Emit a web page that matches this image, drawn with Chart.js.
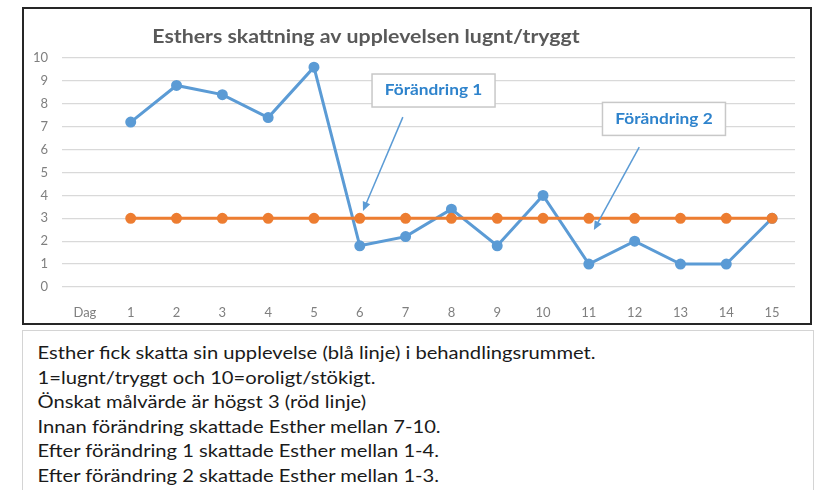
<!DOCTYPE html>
<html lang="sv">
<head>
  <meta charset="UTF-8">
  <title>Esthers skattning</title>
  <script src="https://cdn.jsdelivr.net/npm/chart.js"></script>
  <style>
    body { margin: 0; width: 818px; height: 490px; background: #fff; position: relative; overflow: hidden; }
    .chart-box { position: absolute; left: 22px; top: 7px; width: 786px; height: 314px; border: 2px solid #262626; background: #fff; }
    .text-box { position: absolute; left: 22px; top: 330px; width: 790px; height: 170px; border: 1px solid #d4d4d4; border-bottom: none; background: #fff; }
    .text-box p { margin: 0; padding-left: 13px; font-family: Lato, "Open Sans", sans-serif; font-size: 18px; line-height: 24.5px; color: #1a1a1a; white-space: nowrap; }
    .text-box .lines { padding-top: 9px; transform: scaleX(1.12); transform-origin: left top; }
  </style>
</head>
<body>
  <div class="chart-box"><canvas id="chart" width="786" height="314"></canvas></div>
  <div class="text-box">
    <div class="lines">
      <p>Esther fick skatta sin upplevelse (blå linje) i behandlingsrummet.</p>
      <p>1=lugnt/tryggt och 10=oroligt/stökigt.</p>
      <p>Önskat målvärde är högst 3 (röd linje)</p>
      <p>Innan förändring skattade Esther mellan 7-10.</p>
      <p>Efter förändring 1 skattade Esther mellan 1-4.</p>
      <p>Efter förändring 2 skattade Esther mellan 1-3.</p>
    </div>
  </div>

  <script>
    // Data
    const labels = ['Dag', '1', '2', '3', '4', '5', '6', '7', '8', '9', '10', '11', '12', '13', '14', '15'];
    const esther = [null, 7.2, 8.8, 8.4, 7.4, 9.6, 1.8, 2.2, 3.4, 1.8, 4.0, 1.0, 2.0, 1.0, 1.0, 3.0];
    const target = [null, 3, 3, 3, 3, 3, 3, 3, 3, 3, 3, 3, 3, 3, 3, 3];
    const yTicks = [0, 1, 2, 3, 4, 5, 6, 7, 8, 9, 10];

    const titleText = 'Esthers skattning av upplevelsen lugnt/tryggt';

    // callouts, placed in axis units (category index, value)
    const callouts = [
      { text: 'Förändring 1', x: 7.61, y: 8.58, fromX: 6.94, fromY: 7.42, toX: 6.07, toY: 3.32 },
      { text: 'Förändring 2', x: 12.64, y: 7.34, fromX: 12.10, fromY: 6.11, toX: 11.11, toY: 2.49 }
    ];

    const BLUE = '#5B9BD5';
    const ORANGE = '#ED7D31';

    // text drawn a bit wider than Lato, like the original
    function wideText(ctx, text, x, y, stretch) {
      ctx.save();
      ctx.translate(x, y);
      ctx.scale(stretch, 1);
      ctx.fillText(text, 0, 0);
      ctx.restore();
    }

    const titlePlugin = {
      id: 'titlePlugin',
      afterDraw(chart) {
        const ctx = chart.ctx;
        ctx.save();
        ctx.font = 'bold 19px Lato, sans-serif';
        ctx.fillStyle = '#595959';
        ctx.textAlign = 'center';
        ctx.textBaseline = 'middle';
        wideText(ctx, titleText, chart.chartArea.left + 304, 28, 1.12);
        ctx.restore();
      }
    };

    const calloutPlugin = {
      id: 'calloutPlugin',
      afterDatasetsDraw(chart) {
        const ctx = chart.ctx;
        const xs = chart.scales.x, ys = chart.scales.y;
        ctx.save();
        callouts.forEach(c => {
          // arrow
          const x1 = xs.getPixelForValue(c.fromX), y1 = ys.getPixelForValue(c.fromY);
          const x2 = xs.getPixelForValue(c.toX), y2 = ys.getPixelForValue(c.toY);
          const ang = Math.atan2(y2 - y1, x2 - x1);
          ctx.strokeStyle = BLUE;
          ctx.fillStyle = BLUE;
          ctx.lineWidth = 1.5;
          ctx.beginPath();
          ctx.moveTo(x1, y1);
          ctx.lineTo(x2 - 6 * Math.cos(ang), y2 - 6 * Math.sin(ang));
          ctx.stroke();
          ctx.beginPath();
          ctx.moveTo(x2, y2);
          ctx.lineTo(x2 - 9 * Math.cos(ang) + 4 * Math.sin(ang), y2 - 9 * Math.sin(ang) - 4 * Math.cos(ang));
          ctx.lineTo(x2 - 9 * Math.cos(ang) - 4 * Math.sin(ang), y2 - 9 * Math.sin(ang) + 4 * Math.cos(ang));
          ctx.closePath();
          ctx.fill();

          // box
          const cx = xs.getPixelForValue(c.x), cy = ys.getPixelForValue(c.y);
          const w = 123, h = 33;
          ctx.fillStyle = '#fff';
          ctx.fillRect(cx - w / 2, cy - h / 2, w, h);
          ctx.strokeStyle = '#c8c8c8';
          ctx.lineWidth = 1.5;
          ctx.strokeRect(cx - w / 2, cy - h / 2, w, h);
          ctx.font = 'bold 15px Lato, sans-serif';
          ctx.fillStyle = '#2E83CC';
          ctx.textAlign = 'center';
          ctx.textBaseline = 'middle';
          wideText(ctx, c.text, cx, cy, 1.15);
        });
        ctx.restore();
      }
    };

    const ctx = document.getElementById('chart').getContext('2d');
    const chart = new Chart(ctx, {
      type: 'line',
      data: {
        labels: labels,
        datasets: [
          {
            label: 'Mål',
            data: target,
            borderColor: ORANGE,
            backgroundColor: ORANGE,
            borderWidth: 3,
            pointRadius: 4,
            pointHoverRadius: 4,
            tension: 0
          },
          {
            label: 'Esther',
            data: esther,
            borderColor: BLUE,
            backgroundColor: BLUE,
            borderWidth: 3,
            pointRadius: 4,
            pointHoverRadius: 4,
            tension: 0
          }
        ]
      },
      options: {
        responsive: false,
        animation: false,
        layout: { padding: { left: 0, right: 15, top: 49, bottom: 0 } },
        scales: {
          x: {
            offset: true,
            grid: { display: false },
            border: { display: false },
            ticks: { color: '#7f7f7f', font: { family: 'Lato', size: 13 }, padding: 10, maxRotation: 0, autoSkip: false },
            afterFit(scale) { scale.height = 36; }
          },
          y: {
            min: 0,
            max: 10,
            afterBuildTicks(scale) { scale.ticks = yTicks.map(v => ({ value: v })); },
            grid: { color: '#d9d9d9', lineWidth: 1.3, drawTicks: false },
            border: { display: false },
            ticks: { color: '#7f7f7f', font: { family: 'Lato', size: 13 }, padding: 14 },
            afterFit(scale) { scale.width = 38; }
          }
        },
        plugins: {
          legend: { display: false },
          tooltip: { enabled: false }
        }
      },
      plugins: [titlePlugin, calloutPlugin]
    });
  </script>
</body>
</html>
